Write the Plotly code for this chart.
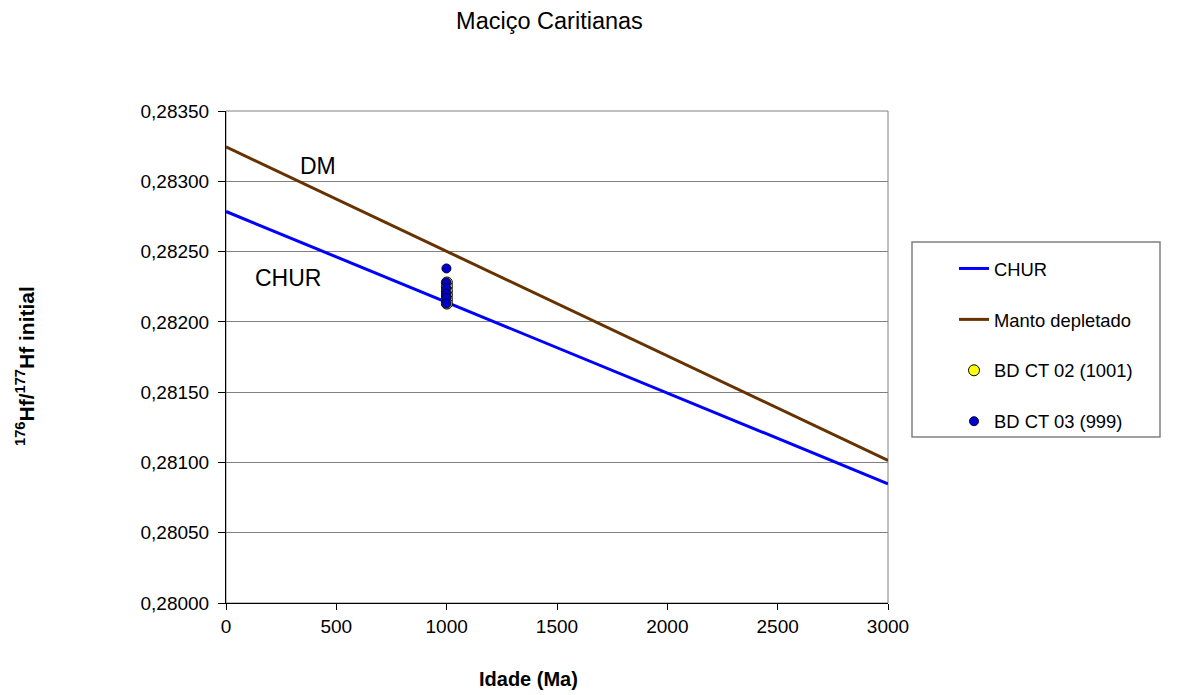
import plotly.graph_objects as go

# Model evolution lines (age in Ma, 176Hf/177Hf)
line_ages = [0, 3000]
chur_values = [0.282785, 0.280848]
dm_values = [0.283245, 0.281015]

# Samples
ct02_ages = [1001, 1001, 1001, 1001, 1001, 1001]
ct02_values = [0.28228, 0.28225, 0.28222, 0.28219, 0.28216, 0.28213]
ct03_ages = [999, 999, 999, 999, 999, 999]
ct03_values = [0.28238, 0.28228, 0.28224, 0.28220, 0.28217, 0.28213]

FONT = "Liberation Sans, Arial, sans-serif"

# page has an 8px body margin; figure is sized to fit the window
W, H = 1171, 687
PL, PR, PT, PB = 218, 880, 103, 595  # plot area in figure pixels
PW, PH = PR - PL, PB - PT


def px(x):
    return (x - 8 - PL) / PW


def py(y):
    return (PB - (y - 8)) / PH


fig = go.Figure()
fig.add_trace(go.Scatter(x=line_ages, y=chur_values, mode="lines", name="CHUR",
                         line=dict(color="#0000FF", width=3), legendgroup="a"))
fig.add_trace(go.Scatter(x=line_ages, y=dm_values, mode="lines", name="Manto depletado",
                         line=dict(color="#663300", width=3), legendgroup="b"))
fig.add_trace(go.Scatter(x=ct02_ages, y=ct02_values, mode="markers", name="BD CT 02 (1001)",
                         marker=dict(color="#FFFF00", size=11, line=dict(color="#000000", width=1)),
                         legendgroup="c"))
fig.add_trace(go.Scatter(x=ct03_ages, y=ct03_values, mode="markers", name="BD CT 03 (999)",
                         marker=dict(color="#0000CC", size=9, line=dict(color="#000033", width=1)),
                         legendgroup="d"))

# in-plot labels
fig.add_annotation(x=417, y=0.283109, text="DM", showarrow=False,
                   font=dict(family=FONT, size=23, color="black"))
fig.add_annotation(x=281, y=0.282312, text="CHUR", showarrow=False,
                   font=dict(family=FONT, size=23, color="black"))

# axis titles
fig.add_annotation(xref="paper", yref="paper", x=px(528), y=py(679),
                   text="<b>Idade (Ma)</b>", showarrow=False, xanchor="center", yanchor="middle",
                   font=dict(family=FONT, size=20, color="black"))
fig.add_annotation(xref="paper", yref="paper", x=px(25), y=py(366),
                   text="<b><sup>176</sup>Hf/<sup>177</sup>Hf initial</b>", showarrow=False,
                   textangle=-90, xanchor="center", yanchor="middle",
                   font=dict(family=FONT, size=21, color="black"))

# plot frame
fig.add_shape(type="rect", xref="x domain", yref="y domain", x0=0, x1=1, y0=0, y1=1,
              line=dict(color="#808080", width=1), layer="below")
# legend frame
fig.add_shape(type="rect", xref="paper", yref="paper",
              x0=px(912), x1=px(1160), y0=py(437), y1=py(242),
              line=dict(color="#808080", width=1.5), fillcolor="white", layer="below")

fig.update_layout(
    width=W, height=H,
    paper_bgcolor="white", plot_bgcolor="white",
    separators=",.",
    margin=dict(l=PL, r=W - PR, t=PT, b=H - PB, autoexpand=False),
    font=dict(family=FONT, size=19, color="black"),
    title=dict(text="Maciço Caritianas", x=(549.5 - 8) / W, xanchor="center",
               y=1 - (21 - 8) / H, yanchor="middle", xref="container", yref="container",
               font=dict(family=FONT, size=23.5, color="black")),
    showlegend=True,
    legend=dict(x=px(954), y=py(250), xanchor="left", yanchor="top",
                borderwidth=0, bgcolor="rgba(0,0,0,0)",
                tracegroupgap=24, traceorder="grouped",
                font=dict(family=FONT, size=18.4, color="black")),
)
fig.update_xaxes(range=[0, 3000], tickvals=[0, 500, 1000, 1500, 2000, 2500, 3000],
                 showgrid=False, zeroline=False, showline=True, linecolor="black", linewidth=1,
                 ticks="outside", ticklen=6, tickcolor="black", automargin=False,
                 tickfont=dict(family=FONT, size=19, color="black"))
fig.update_yaxes(range=[0.28, 0.2835], dtick=0.0005, tickformat=".5f",
                 showgrid=True, gridcolor="#808080", gridwidth=1, zeroline=False,
                 showline=True, linecolor="black", linewidth=1,
                 ticks="outside", ticklen=7, tickcolor="black", automargin=False,
                 ticklabelstandoff=5,
                 tickfont=dict(family=FONT, size=19, color="black"))

fig.write_html("out.html")
